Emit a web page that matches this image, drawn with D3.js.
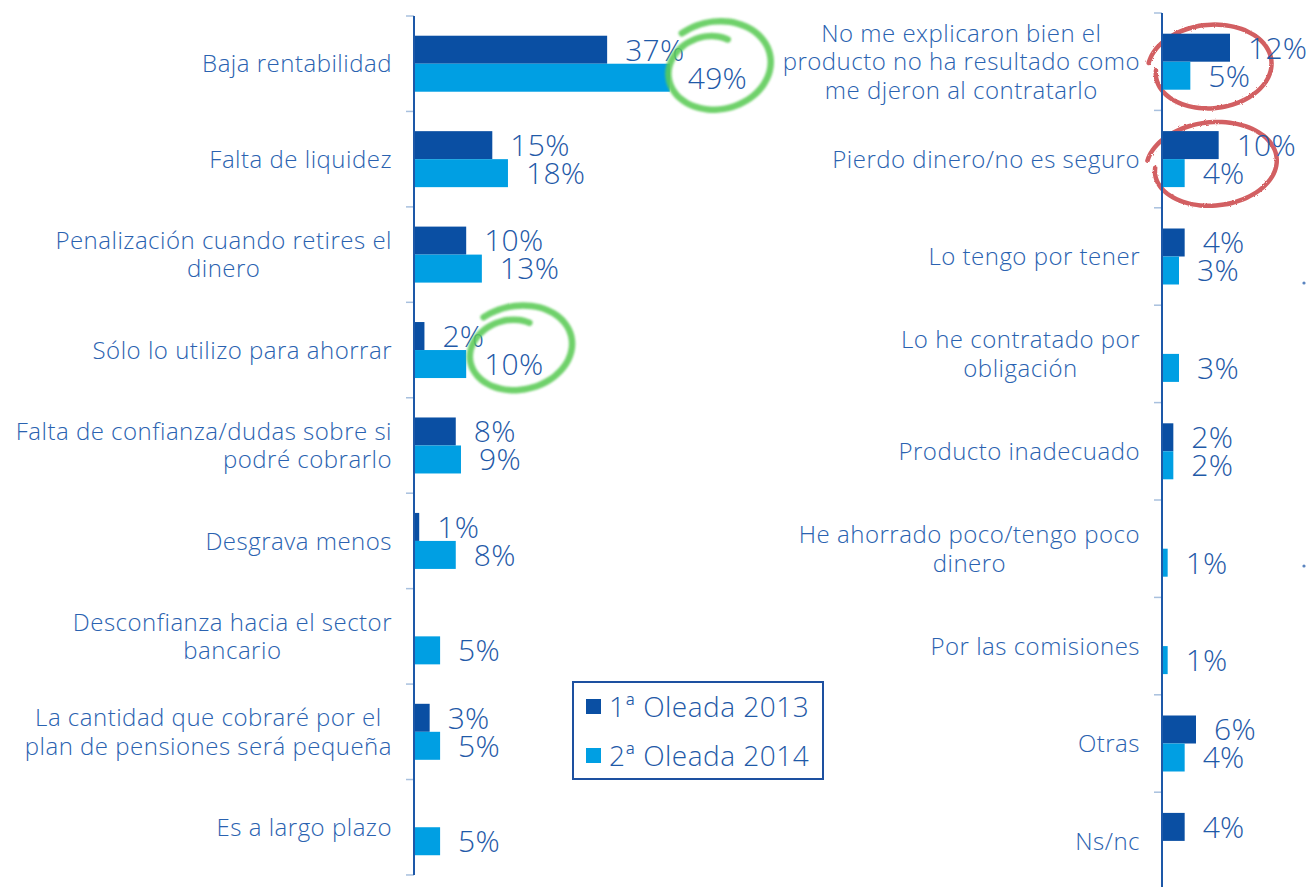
<!DOCTYPE html>
<html>
<head>
<meta charset="utf-8">
<script src="https://cdn.jsdelivr.net/npm/d3@7"></script>
<style>
  html, body { margin: 0; padding: 0; background: #ffffff; }
  svg { display: block; }
  text { font-family: "Open Sans", "Noto Sans", sans-serif; font-weight: 300; }
</style>
</head>
<body>
<svg id="chart" width="1312" height="887"></svg>
<script>
// ---- data ----
const seriesNames = ["1ª Oleada 2013", "2ª Oleada 2014"];

const leftCategories = [
  "Baja rentabilidad",
  "Falta de liquidez",
  "Penalización cuando retires el|dinero",
  "Sólo lo utilizo para ahorrar",
  "Falta de confianza/dudas sobre si|podré cobrarlo",
  "Desgrava menos",
  "Desconfianza hacia el sector|bancario",
  "La cantidad que cobraré por el|plan de pensiones será pequeña",
  "Es a largo plazo"
];
const left2013 = [37, 15, 10, 2, 8, 1, null, 3, null];
const left2014 = [49, 18, 13, 10, 9, 8, 5, 5, 5];

const rightCategories = [
  "No me explicaron bien el|producto no ha resultado como|me djeron al contratarlo",
  "Pierdo dinero/no es seguro",
  "Lo tengo por tener",
  "Lo he contratado por|obligación",
  "Producto inadecuado",
  "He ahorrado poco/tengo poco|dinero",
  "Por las comisiones",
  "Otras",
  "Ns/nc"
];
const right2013 = [12, 10, 4, null, 2, null, null, 6, 4];
const right2014 = [5, 4, 3, 3, 2, 1, 1, 4, null];

// ---- styles ----
const C_DARK = "#0a4fa3";
const C_LIGHT = "#009fe3";
const C_AXIS = "#1d58a8";
const C_TICK = "#a8c0de";
const C_TEXT = "#2a62b0";
const C_VALUE = "#1f5aa8";
const BAR_H = 28;
const CAT_FONT = 24;
const CAT_SPACING = 0.5;
const VAL_FONT = 30;
const LINE_H = 28.5;

const svg = d3.select("#chart");
svg.append("rect").attr("width", 1312).attr("height", 887).attr("fill", "#fff");

const defs = svg.append("defs");
defs.append("filter").attr("id", "soft").append("feGaussianBlur").attr("stdDeviation", 0.8);
const rough = defs.append("filter").attr("id", "rough");
rough.append("feTurbulence").attr("type", "fractalNoise").attr("baseFrequency", 0.9).attr("numOctaves", 2).attr("result", "n");
rough.append("feDisplacementMap").attr("in", "SourceGraphic").attr("in2", "n").attr("scale", 2.5);

const annoBack = svg.append("g");   // red marker loops sit behind the bars
const plot = svg.append("g");
const annoFront = svg.append("g");  // green marker loops sit over the bars

// labels whose lines align to the right edge rather than centring
const endAligned = new Set(["Falta de confianza/dudas sobre si|podré cobrarlo"]);

function drawPanel(cfg) {
  const idx = d3.range(cfg.categories.length);
  const y = d3.scaleBand().domain(idx).range([cfg.top, cfg.top + cfg.step * idx.length]);
  const x = d3.scaleLinear().domain([0, cfg.maxVal]).range([cfg.axisX, cfg.axisX + cfg.maxPx]);
  const g = plot.append("g");
  const mid = i => y(i) + y.bandwidth() / 2;

  // tick marks at the band edges
  const edges = d3.range(idx.length + 1).map(k => cfg.top + k * cfg.step);
  g.selectAll("line.tick").data(edges).join("line")
    .attr("x1", cfg.axisX - 8).attr("x2", cfg.axisX)
    .attr("y1", d => d).attr("y2", d => d)
    .attr("stroke", C_TICK).attr("stroke-width", 1.5);

  const series = [
    { vals: cfg.v2013, color: C_DARK, off: -BAR_H },
    { vals: cfg.v2014, color: C_LIGHT, off: 0 }
  ];
  series.forEach(s => {
    const rows = idx.filter(i => s.vals[i] != null);
    g.selectAll(null).data(rows).join("rect")
      .attr("x", cfg.axisX)
      .attr("y", i => mid(i) + s.off)
      .attr("width", i => x(s.vals[i]) - cfg.axisX)
      .attr("height", BAR_H)
      .attr("fill", s.color);
    g.selectAll(null).data(rows).join("text")
      .attr("x", i => x(s.vals[i]) + 18)
      .attr("y", i => mid(i) + s.off + BAR_H / 2)
      .attr("dy", "0.36em")
      .attr("font-size", VAL_FONT)
      .attr("letter-spacing", 0.3)
      .attr("fill", C_VALUE)
      .text(i => s.vals[i] + "%");
  });

  // axis line
  g.append("line")
    .attr("x1", cfg.axisX).attr("x2", cfg.axisX)
    .attr("y1", cfg.top).attr("y2", cfg.axisBottom)
    .attr("stroke", C_AXIS).attr("stroke-width", 2);

  // category labels, block right-aligned, lines centred in the block
  const labelRight = cfg.axisX - 22;
  idx.forEach(i => {
    const lines = cfg.categories[i].split("|");
    const t = g.append("text").attr("font-size", CAT_FONT)
      .attr("letter-spacing", CAT_SPACING).attr("fill", C_TEXT);
    const y0 = mid(i) - (lines.length - 1) * LINE_H / 2;
    const spans = lines.map((ln, k) => t.append("tspan").attr("y", y0 + k * LINE_H).attr("dy", "0.36em").text(ln));
    const widths = spans.map(s => s.node().getComputedTextLength());
    const w = d3.max(widths);
    if (lines.length === 1 || endAligned.has(cfg.categories[i])) {
      t.attr("text-anchor", "end");
      spans.forEach(s => s.attr("x", labelRight));
    } else {
      t.attr("text-anchor", "middle");
      spans.forEach(s => s.attr("x", labelRight - w / 2));
    }
  });

  return { x, mid };
}

const L = drawPanel({
  categories: leftCategories, v2013: left2013, v2014: left2014,
  axisX: 414, top: 16, step: 95.44, axisBottom: 875, maxVal: 50, maxPx: 261
});
const R = drawPanel({
  categories: rightCategories, v2013: right2013, v2014: right2014,
  axisX: 1162, top: 13, step: 97.4, axisBottom: 887, maxVal: 12, maxPx: 68
});

// ---- legend ----
const lg = plot.append("g");
lg.append("rect").attr("x", 573).attr("y", 682).attr("width", 250).attr("height", 97)
  .attr("fill", "#fff").attr("stroke", "#1d50a0").attr("stroke-width", 2);
[C_DARK, C_LIGHT].forEach((c, k) => {
  lg.append("rect").attr("x", 586).attr("y", 699 + k * 49).attr("width", 15).attr("height", 15).attr("fill", c);
  lg.append("text").attr("x", 609).attr("y", 717 + k * 49).attr("font-size", 28)
    .attr("letter-spacing", 0.5).attr("fill", C_VALUE).text(seriesNames[k]);
});

// ---- hand-drawn marker loops ----
function loopPoints(cx, cy, rx, ry, a0, sweep, s0, s1, tilt) {
  const n = 48, pts = [];
  const ct = Math.cos(tilt), st = Math.sin(tilt);
  for (let k = 0; k <= n; k++) {
    const t = k / n;
    const a = a0 + sweep * t;
    const s = s0 - (s0 - s1) * Math.pow(t, 3);
    const px = Math.cos(a) * rx * s, py = Math.sin(a) * ry * s;
    pts.push([cx + px * ct - py * st, cy + px * st + py * ct]);
  }
  return pts;
}
const sketch = d3.line().curve(d3.curveCatmullRom);
const deg = Math.PI / 180;

// green loops around the 2014 labels that stand out
[
  { i: 0, v: left2014[0], dx: -2, dy: -11, rx: 56, ry: 45 },
  { i: 3, v: left2014[3], dx: 3, dy: -15, rx: 56, ry: 43 }
].forEach(a => {
  const cx = L.x(a.v) + 18 + 30 + a.dx;
  const cy = L.mid(a.i) + BAR_H / 2 + a.dy;
  annoFront.append("path")
    .attr("d", sketch(loopPoints(cx, cy, a.rx, a.ry, -118 * deg, 418 * deg, 1.0, 0.62, -12 * deg)))
    .attr("fill", "none").attr("stroke", "#5ccb57").attr("stroke-width", 6.5)
    .attr("stroke-linecap", "round").attr("opacity", 0.88).attr("filter", "url(#soft)");
});

// red loops around the first two rows of the right panel
[
  { i: 0, dx: 48, dy: 6, rx: 57, ry: 39 },
  { i: 1, dx: 50, dy: 6, rx: 60, ry: 39 }
].forEach(a => {
  const cx = 1162 + a.dx;
  const cy = R.mid(a.i) + a.dy;
  annoBack.append("path")
    .attr("d", sketch(loopPoints(cx, cy, a.rx, a.ry, -165 * deg, 350 * deg, 1.1, 0.95, -6 * deg)))
    .attr("fill", "none").attr("stroke", "#c8383a").attr("stroke-width", 4.5)
    .attr("stroke-linecap", "round").attr("opacity", 0.8).attr("filter", "url(#rough)");
});

// small bullets at the right margin
[283, 566].forEach(yy => plot.append("circle").attr("cx", 1304).attr("cy", yy).attr("r", 1.6).attr("fill", "#5a84c0"));
</script>
</body>
</html>
